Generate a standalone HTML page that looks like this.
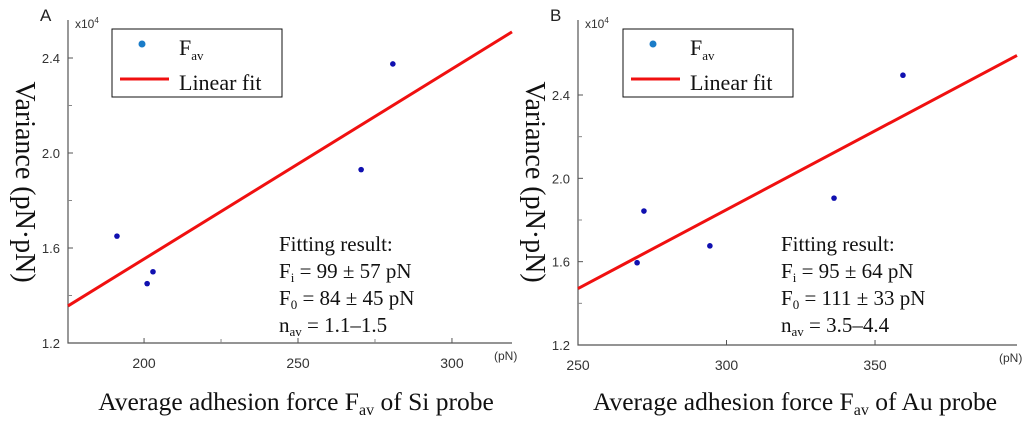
<!DOCTYPE html>
<html><head><meta charset="utf-8"><style>
body{margin:0;background:#fff}
svg{display:block}
.tk{font-family:"Liberation Sans",sans-serif;font-size:13px;fill:#333}
.sr{font-family:"Liberation Serif",serif;fill:#111}
</style></head><body>
<svg id="s" width="1024" height="425"></svg>
<script>
// Panel A data
const aPointsX=[191.2,201,202.9,270.5,280.8];
const aPointsY=[1.65,1.45,1.50,1.93,2.375];
const aFitX=[175.3,319.5];
const aFitY=[1.356,2.51];
const aXTicks=[200,250,300];
const aXMinor=[225,275];
// Panel B data
const bPointsX=[269.9,272.2,294.4,336.2,359.4];
const bPointsY=[1.595,1.843,1.676,1.905,2.495];
const bFitX=[250,397.8];
const bFitY=[1.471,2.59];
const bXTicks=[250,300,350];
const bXMinor=[];
const yTicks=[1.2,1.6,2.0,2.4];
const yMinor=[1.4,1.8,2.2];

const NS="http://www.w3.org/2000/svg";
const svg=document.getElementById('s');
function mk(tag,at,parent,txt){const e=document.createElementNS(NS,tag);for(const k in at)e.setAttribute(k,at[k]);if(txt!=null)e.textContent=txt;(parent||svg).appendChild(e);return e;}

function panel(p){
  const g=mk('g',{});
  
  
  const sx=v=>p.x0+(v-p.xmin)/(p.xmax-p.xmin)*(p.x1-p.x0);
  const sy=v=>p.y0-(v-1.2)/(p.ymax-1.2)*(p.y0-p.y1);
  const ax=mk('path',{d:`M${p.x0} ${p.top}V${p.y0}H${p.x1}`,stroke:'#555','stroke-width':1.2,fill:'none'},g);
   
  yTicks.forEach(v=>{const y=sy(v);
    mk('line',{x1:p.x0,x2:p.x0+5,y1:y,y2:y,stroke:'#555'},g);
    const t=mk('text',{x:p.x0-8,y:y+5,'text-anchor':'end',class:'tk'},g,v.toFixed(1));
     });
  yMinor.forEach(v=>{const y=sy(v);mk('line',{x1:p.x0,x2:p.x0+4,y1:y,y2:y,stroke:'#888'},g);});
  p.xt.forEach(v=>{const x=sx(v);
    mk('line',{x1:x,x2:x,y1:p.y0,y2:p.y0-5,stroke:'#555'},g);
    const t=mk('text',{x:x,y:p.y0+25,'text-anchor':'middle',class:'tk',style:'font-size:14px'},g,String(v));
     });
  p.xm.forEach(v=>{const x=sx(v);mk('line',{x1:x,x2:x,y1:p.y0,y2:p.y0-4,stroke:'#888'},g);});
  const fit=mk('line',{x1:sx(p.fx[0]),y1:sy(p.fy[0]),x2:sx(p.fx[1]),y2:sy(p.fy[1]),stroke:'#f01010','stroke-width':3},g);
   
  p.px.forEach((v,i)=>{const c=mk('circle',{cx:sx(v),cy:sy(p.py[i]),r:2.8,fill:'#1010b0'},g);
     });
  const lab=mk('text',{x:p.x0-28,y:21,class:'tk',style:'font-size:17px;fill:#222'},g,p.id);
   
  const ex=mk('text',{x:p.x0+7,y:p.top+8,class:'tk',style:'font-size:12px'},g);
   
  ex.innerHTML='x10<tspan dy="-5" style="font-size:8px">4</tspan>';
  const un=mk('text',{x:p.x1-18,y:p.y0+17,class:'tk',style:'font-size:12px'},g,'(pN)');
   
  // legend
  const lg=mk('g',{},g);  
  mk('rect',{x:p.lx,y:29,width:170,height:68,fill:'#fff',stroke:'#111','stroke-width':1},lg);
  mk('circle',{cx:p.lx+30,cy:44,r:3.5,fill:'#1a7cc8'},lg);
  const l1=mk('text',{x:p.lx+67,y:55,class:'sr',style:'font-size:22px'},lg);
  l1.innerHTML='F<tspan dy="5" style="font-size:13px">av</tspan>';
  mk('line',{x1:p.lx+8,x2:p.lx+57,y1:79,y2:79,stroke:'#f01010','stroke-width':3},lg);
  mk('text',{x:p.lx+67,y:90,class:'sr',style:'font-size:22px'},lg,'Linear fit');
  // fitting text
  const ft=mk('g',{},g);  
  const fs='font-size:21px';
  mk('text',{x:p.fxp,y:251,class:'sr',style:fs},ft,'Fitting result:');
  mk('text',{x:p.fxp,y:278,class:'sr',style:fs},ft).innerHTML='F<tspan dy="4" style="font-size:13px">i</tspan><tspan dy="-4"> = '+p.l1+'</tspan>';
  mk('text',{x:p.fxp,y:305,class:'sr',style:fs},ft).innerHTML='F<tspan dy="4" style="font-size:13px">0</tspan><tspan dy="-4"> = '+p.l2+'</tspan>';
  mk('text',{x:p.fxp,y:332,class:'sr',style:fs},ft).innerHTML='n<tspan dy="4" style="font-size:13px">av</tspan><tspan dy="-4"> = '+p.l3+'</tspan>';
  // axis titles
  const yt=mk('text',{transform:`translate(${p.x0-52},${p.ycap}) rotate(90)`,'text-anchor':'middle',class:'sr',style:'font-size:28px'},g,'Variance (pN·pN)');
   
  const xt=mk('text',{x:p.xcap,y:410,'text-anchor':'middle',class:'sr',style:'font-size:25.5px'},g);
   
  xt.innerHTML='Average adhesion force F<tspan dy="5" style="font-size:16px">av</tspan><tspan dy="-5"> of '+p.probe+' probe</tspan>';
}
panel({id:'A',x0:68,x1:512,top:20,y0:343,y1:58,ymax:2.4,xmin:175.3,xmax:319.5,
  px:aPointsX,py:aPointsY,fx:aFitX,fy:aFitY,xt:aXTicks,xm:aXMinor,lx:112,fxp:279,
  l1:'99 ± 57 pN',l2:'84 ± 45 pN',l3:'1.1–1.5',ycap:182,xcap:296,probe:'Si'});
panel({id:'B',x0:578,x1:1017,top:20,y0:345,y1:95,ymax:2.4,xmin:250,xmax:397.8,
  px:bPointsX,py:bPointsY,fx:bFitX,fy:bFitY,xt:bXTicks,xm:bXMinor,lx:623,fxp:781,
  l1:'95 ± 64 pN',l2:'111 ± 33 pN',l3:'3.5–4.4',ycap:182,xcap:795,probe:'Au'});
</script>
</body></html>
